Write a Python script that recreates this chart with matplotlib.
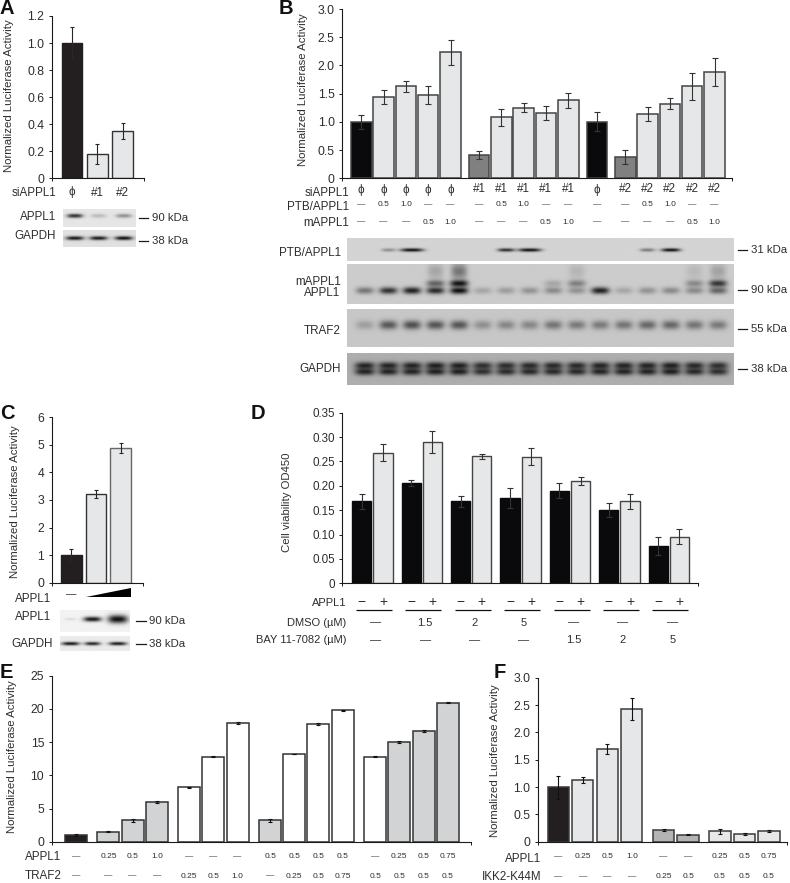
import numpy as np
import matplotlib
matplotlib.use("Agg")
import matplotlib.pyplot as plt
from matplotlib.patches import Polygon
from matplotlib.transforms import blended_transform_factory

plt.rcParams['font.family'] = ['Liberation Sans', 'DejaVu Sans']

W, H = 790, 883
BLACK = '#0a0a0c'
INK = '#231f20'
LIGHT = '#e6e7e8'
MID = '#808080'
SILVER = '#d1d3d4'
GREY = '#b3b3b3'
TXT = '#2e2e2e'
PHI = 'ϕ'
D = '—'

# ---- data ----
a_vals = [1.0, 0.18, 0.35]
a_errs = [0.12, 0.072, 0.06]
a_si = [PHI, '#1', '#2']
a_ticks = [0, 0.2, 0.4, 0.6, 0.8, 1.0, 1.2]
a_ticklabels = ['0', '0.2', '0.4', '0.6', '0.8', '1.0', '1.2']

b_vals = [1.0, 1.44, 1.63, 1.47, 2.23, 0.41, 1.08, 1.25, 1.16, 1.38, 1.0, 0.38, 1.14, 1.32, 1.63, 1.89]
b_errs = [0.13, 0.13, 0.10, 0.16, 0.22, 0.07, 0.15, 0.08, 0.12, 0.14, 0.17, 0.12, 0.13, 0.10, 0.24, 0.25]
b_si = [PHI] * 5 + ['#1'] * 5 + [PHI] + ['#2'] * 5
b_ptb = [D, '0.5', '1.0', D, D, D, '0.5', '1.0', D, D, D, D, '0.5', '1.0', D, D]
b_mappl = [D, D, D, '0.5', '1.0', D, D, D, '0.5', '1.0', D, D, D, D, '0.5', '1.0']
b_ticks = [0, 0.5, 1.0, 1.5, 2.0, 2.5, 3.0]
b_ticklabels = ['0', '0.5', '1.0', '1.5', '2.0', '2.5', '3.0']

c_vals = [1.0, 3.22, 4.87]
c_errs = [0.22, 0.13, 0.18]
c_ticks = [0, 1, 2, 3, 4, 5, 6]

d_minus = [0.168, 0.205, 0.168, 0.175, 0.19, 0.15, 0.077]
d_minus_err = [0.016, 0.006, 0.011, 0.021, 0.015, 0.015, 0.018]
d_plus = [0.268, 0.29, 0.261, 0.26, 0.21, 0.168, 0.096]
d_plus_err = [0.018, 0.023, 0.005, 0.018, 0.008, 0.015, 0.016]
d_dmso = [D, '1.5', '2', '5', D, D, D]
d_bay = [D, D, D, D, '1.5', '2', '5']
d_ticks = [0, 0.05, 0.10, 0.15, 0.20, 0.25, 0.30, 0.35]
d_ticklabels = ['0', '0.05', '0.10', '0.15', '0.20', '0.25', '0.30', '0.35']

e_vals = [1.0, 1.5, 3.2, 6.0, 8.2, 12.8, 17.95, 3.2, 13.2, 17.8, 19.8, 12.8, 15.0, 16.65, 20.95]
e_errs = [0.1, 0.1, 0.2, 0.15, 0.05, 0.1, 0.15, 0.2, 0.05, 0.15, 0.05, 0.1, 0.1, 0.1, 0.1]
e_appl = [D, '0.25', '0.5', '1.0', D, D, D, '0.5', '0.5', '0.5', '0.5', D, '0.25', '0.5', '0.75']
e_traf = [D, D, D, D, '0.25', '0.5', '1.0', D, '0.25', '0.5', '0.75', '0.5', '0.5', '0.5', '0.5']
e_ticks = [0, 5, 10, 15, 20, 25]

f_vals = [1.0, 1.13, 1.69, 2.43, 0.21, 0.13, 0.19, 0.14, 0.19]
f_errs = [0.21, 0.06, 0.09, 0.20, 0.02, 0.01, 0.04, 0.015, 0.02]
f_appl = [D, '0.25', '0.5', '1.0', D, D, '0.25', '0.5', '0.75']
f_ikk = [D, D, D, D, '0.25', '0.5', '0.5', '0.5', '0.5']
f_ticks = [0, 0.5, 1.0, 1.5, 2.0, 2.5, 3.0]
f_ticklabels = ['0', '0.5', '1.0', '1.5', '2.0', '2.5', '3.0']

# blot band strengths, one per lane
a_blot_appl = [0.85, 0.2, 0.4]
a_blot_gapdh = [0.97, 0.95, 1.0]
b_blot_ptb = [0, 0.35, 1.0, 0, 0, 0, 0.85, 1.0, 0, 0, 0, 0, 0.45, 1.0, 0, 0]
b_blot_appl = [0.45, 0.8, 0.9, 0.85, 1.0, 0.2, 0.25, 0.3, 0.35, 0.3, 0.9, 0.2, 0.3, 0.35, 0.35, 0.55]
b_blot_mappl = [0, 0, 0, 0.55, 0.98, 0, 0, 0, 0.2, 0.4, 0, 0, 0, 0, 0.35, 0.8]
b_blot_smear = [0, 0, 0, 0.2, 0.45, 0, 0, 0, 0, 0.12, 0, 0, 0, 0, 0.1, 0.22]
b_blot_traf = [0.22, 0.6, 0.65, 0.62, 0.62, 0.3, 0.35, 0.35, 0.45, 0.42, 0.42, 0.45, 0.52, 0.52, 0.45, 0.42]
b_blot_gapdh = [0.85, 0.85, 0.85, 0.88, 0.88, 0.78, 0.8, 0.82, 0.82, 0.82, 0.85, 0.85, 0.85, 0.88, 0.82, 0.78]
c_blot_appl = [0.1, 0.97, 1.0]
c_blot_gapdh = [0.97, 0.9, 0.95]

fig = plt.figure(figsize=(W / 100, H / 100), dpi=100)
fig.patch.set_facecolor('white')


def fx(x):
    return x / W


def fy(y):
    return 1 - y / H


def T(x, y, s, ha='left', size=8.4, color=TXT, **kw):
    fig.text(fx(x), fy(y), s, ha=ha, va='center', fontsize=size, color=color, **kw)


def positions(groups, gap):
    out, cur = [], 0.0
    for g in groups:
        for _ in range(g):
            out.append(cur)
            cur += 1
        cur += gap
    return np.array(out)


def bar_axes(x0, x1, y0, y1, c0, slot, ticks, ticklabels, ymax, ylabel, lab_x, lab_y, fs=8.8):
    ax = fig.add_axes([fx(x0), fy(y0), (x1 - x0) / W, (y0 - y1) / H])
    ax.patch.set_alpha(0)
    ax.set_xlim((x0 - c0) / slot, (x1 - c0) / slot)
    ax.set_ylim(0, ymax)
    for s in ('top', 'right'):
        ax.spines[s].set_visible(False)
    for s in ('left', 'bottom'):
        ax.spines[s].set_linewidth(0.8)
        ax.spines[s].set_color('#1a1a1a')
    ax.set_yticks(ticks)
    ax.set_yticklabels(ticklabels, fontsize=fs, color=TXT)
    ax.set_xticks(ax.get_xlim())
    ax.set_xticklabels([])
    ax.tick_params(axis='y', length=2.4, width=0.7, pad=3, color='#1a1a1a')
    ax.tick_params(axis='x', length=2, width=0.7, color='#1a1a1a')
    ax.set_ylabel(ylabel, fontsize=8.2, color=TXT)
    ax.yaxis.set_label_coords(fx(lab_x), fy(lab_y), transform=fig.transFigure)
    return ax


def bars(ax, xs, vals, errs, colors, edges, width, cap=1.8, lw=1.0, ecolor='#262626'):
    ax.bar(xs, vals, width=width, color=colors, edgecolor=edges, linewidth=lw, zorder=2)
    ax.errorbar(xs, vals, yerr=errs, fmt='none', ecolor=ecolor, elinewidth=0.8,
                capsize=cap, capthick=0.8, zorder=3)


def row(ax, xs, labels, y, size=6, color=TXT):
    tr = blended_transform_factory(ax.transData, fig.transFigure)
    for x, s in zip(xs, labels):
        ax.text(x, fy(y), s, transform=tr, ha='center', va='center', fontsize=size,
                color=color, clip_on=False)


def blot(x0, y0, x1, y1, bg, lanes, bands):
    ax = fig.add_axes([fx(x0), fy(y1), (x1 - x0) / W, (y1 - y0) / H])
    xs = np.linspace(x0, x1, int((x1 - x0) * 2))
    ys = np.linspace(y0, y1, int((y1 - y0) * 2))
    X, Y = np.meshgrid(xs, ys)
    img = np.full(X.shape, float(bg))
    for strengths, yc, sx, sy in bands:
        sxs = np.broadcast_to(sx, (len(lanes),))
        sys_ = np.broadcast_to(sy, (len(lanes),))
        for xc, s, a, b in zip(lanes, strengths, sxs, sys_):
            if s > 0:
                img *= 1 - s * 0.93 * np.exp(-(np.abs(X - xc) / a) ** 3 - ((Y - yc) / b) ** 2)
    ax.imshow(img, cmap='gray', vmin=0, vmax=1, aspect='auto', interpolation='bilinear',
              extent=[x0, x1, y1, y0])
    ax.axis('off')
    return ax


def kda(x0, x1, y, s, tx):
    fig.add_artist(plt.Line2D([fx(x0), fx(x1)], [fy(y), fy(y)], color='#1a1a1a', lw=0.9))
    T(tx, y, s, size=8.2)


def panel_letter(x, y, s):
    T(x, y, s, size=14.5, color='#111111', fontweight='bold')


YL = 'Normalized Luciferase Activity'

# ---- A ----
ax = bar_axes(51.7, 144, 178.3, 16, 72, 25.3, a_ticks, a_ticklabels, 1.2, YL, 14, 96)
xa = np.arange(3)
bars(ax, xa, a_vals, a_errs, [INK, LIGHT, LIGHT], [INK, '#333333', '#333333'], 0.83, cap=1.6)
row(ax, xa, a_si, 192.5, size=8.4, color=TXT)
T(56, 193, 'siAPPL1', ha='right')
panel_letter(0, 8, 'A')
lanes_a = [75, 98.7, 124]
blot(63.3, 209, 136, 227.3, 0.9, lanes_a, [(a_blot_appl, 216.5, 8, 2)])
blot(63.3, 230, 136, 246.7, 0.88, lanes_a, [(a_blot_gapdh, 238, 9, 2)])
T(56, 216.7, 'APPL1', ha='right')
T(56, 236, 'GAPDH', ha='right')
kda(138.7, 147.7, 218, '90 kDa', 152.5)
kda(138.7, 147.7, 240.5, '38 kDa', 152.5)

# ---- B ----
xb = positions([5, 5, 1, 5], 0.28)
ax = bar_axes(342.3, 732.3, 178.3, 9, 361.3, 22.3, b_ticks, b_ticklabels, 3.0, YL, 307.7, 90)
b_colors = [BLACK, LIGHT, LIGHT, LIGHT, LIGHT, MID, LIGHT, LIGHT, LIGHT, LIGHT, BLACK, MID, LIGHT, LIGHT, LIGHT, LIGHT]
b_edges = ['#444444'] * 16
bars(ax, xb, b_vals, b_errs, b_colors, b_edges, 0.92, cap=2.3, lw=1.1, ecolor='#333333')
row(ax, xb, b_si, 189.5, size=8.4)
row(ax, xb, b_ptb, 205)
row(ax, xb, b_mappl, 222)
T(349, 192.5, 'siAPPL1', ha='right')
T(349, 207, 'PTB/APPL1', ha='right')
T(349, 223, 'mAPPL1', ha='right')
panel_letter(279, 8, 'B')

lanes_b = 365 + 23.55 * np.arange(16)
blot(347.3, 238.3, 734, 260.7, 0.83, lanes_b, [(b_blot_ptb, 250, [1, 7, 11.5, 1, 1, 1, 8.5, 11.5, 1, 1, 1, 1, 7.5, 9.5, 1, 1], 1.7)])
blot(347.3, 264, 734, 304, 0.8, lanes_b, [
    (b_blot_smear, 272, 8, 8),
    (b_blot_mappl, 284, 9, 3.4),
    (b_blot_appl, 291, 9, 3.4),
])
blot(347.3, 309.3, 734, 346.7, 0.78, lanes_b, [(b_blot_traf, 325, 9, 4.5)])
blot(347.3, 352.7, 734, 385, 0.68, lanes_b, [
    (b_blot_gapdh, 366, 10, 3.6),
    (b_blot_gapdh, 372, 10, 3.6),
])
for name, y in [('PTB/APPL1', 252.7), ('mAPPL1', 281.7), ('APPL1', 292.7), ('TRAF2', 331), ('GAPDH', 369.3)]:
    T(340.7, y, name, ha='right')
for s, y in [('31 kDa', 250), ('90 kDa', 290), ('55 kDa', 329.3), ('38 kDa', 369)]:
    kda(737.7, 746.7, y, s, 751)

# ---- C ----
ax = bar_axes(51.7, 142.7, 582.7, 417.3, 71.3, 24.7, c_ticks, [str(t) for t in c_ticks], 6, YL, 20, 502)
xc = np.arange(3)
bars(ax, xc, c_vals, c_errs, [INK, LIGHT, LIGHT], [INK, '#333333', '#666666'], 0.85, cap=1.6)
row(ax, xc[:1], [D], 594.5, size=7.5)
T(51.7, 599, 'APPL1', ha='right')
fig.add_artist(Polygon([(fx(86), fy(596.7)), (fx(131), fy(596.7)), (fx(131), fy(588.3))],
                       closed=True, transform=fig.transFigure, facecolor='black', edgecolor='none'))
panel_letter(0, 414, 'C')
lanes_c = [70.5, 92.5, 118]
blot(60, 610, 130, 631.7, 0.95, lanes_c, [(c_blot_appl, 619, [6, 9, 10], [1.2, 2.5, 4.2])])
blot(60, 636, 130, 650.7, 0.92, lanes_c, [(c_blot_gapdh, 643.5, [9, 8, 9], 1.8)])
T(51.7, 617.3, 'APPL1', ha='right')
T(52.5, 644, 'GAPDH', ha='right')
kda(135.7, 145.7, 620.7, '90 kDa', 149.3)
kda(135.7, 145.7, 643.7, '38 kDa', 149.3)

# ---- D ----
pair_step = 2.32
x_pairs = np.arange(7) * pair_step
ax = bar_axes(342.3, 698.3, 583.3, 412.7, 361.7, 21.3, d_ticks, d_ticklabels, 0.35,
              'Cell viability OD450', 292, 502, fs=8.4)
bars(ax, x_pairs, d_minus, d_minus_err, BLACK, BLACK, 0.9, cap=2, ecolor='#333333')
bars(ax, x_pairs + 1, d_plus, d_plus_err, LIGHT, '#444444', 0.9, cap=2, ecolor='#333333')
row(ax, x_pairs, ['−'] * 7, 602, size=10)
row(ax, x_pairs + 1, ['+'] * 7, 602, size=10)
tr = blended_transform_factory(ax.transData, fig.transFigure)
for xp in x_pairs:
    ax.plot([xp - 0.27, xp + 1.42], [fy(610.3)] * 2, transform=tr, color='#111111', lw=0.9,
            clip_on=False, solid_capstyle='butt')
row(ax, x_pairs + 0.66, d_dmso, 622.5, size=8)
row(ax, x_pairs + 0.66, d_bay, 640, size=8)
T(346, 602.5, 'APPL1', ha='right', size=8)
T(346, 622.7, 'DMSO (µM)', ha='right', size=8)
T(346, 640, 'BAY 11-7082 (µM)', ha='right', size=8)
panel_letter(251, 414, 'D')

# ---- E ----
xe = positions([1, 3, 3, 4, 4], 0.34)
ax = bar_axes(51.7, 471, 841.7, 675.7, 76, 24.2, e_ticks, [str(t) for t in e_ticks], 25, YL, 17.3, 756.7)
e_colors = [INK] + [SILVER] * 3 + ['white'] * 3 + [SILVER] + ['white'] * 3 + ['white'] + [SILVER] * 3
bars(ax, xe, e_vals, e_errs, e_colors, '#333333', 0.91, cap=1.3, lw=1.1, ecolor='#111111')
row(ax, xe, e_appl, 857)
row(ax, xe, e_traf, 876)
T(61.7, 857, 'APPL1', ha='right')
T(61.7, 876, 'TRAF2', ha='right')
panel_letter(0, 673, 'E')

# ---- F ----
xf = positions([4, 2, 3], 0.3)
ax = bar_axes(537.7, 787.3, 841.7, 677.7, 558.3, 24.5, f_ticks, f_ticklabels, 3.0, YL, 500, 761)
f_colors = [INK] + [LIGHT] * 3 + [GREY] * 2 + [LIGHT] * 3
bars(ax, xf, f_vals, f_errs, f_colors, '#3a3a3a', 0.87, cap=1.4, lw=1.1, ecolor='#111111')
row(ax, xf, f_appl, 857)
row(ax, xf, f_ikk, 877)
T(541.7, 859.5, 'APPL1', ha='right')
T(541.7, 876.7, 'IKK2-K44M', ha='right')
panel_letter(494, 673, 'F')

fig.savefig('out.png', dpi=100, facecolor='white')
